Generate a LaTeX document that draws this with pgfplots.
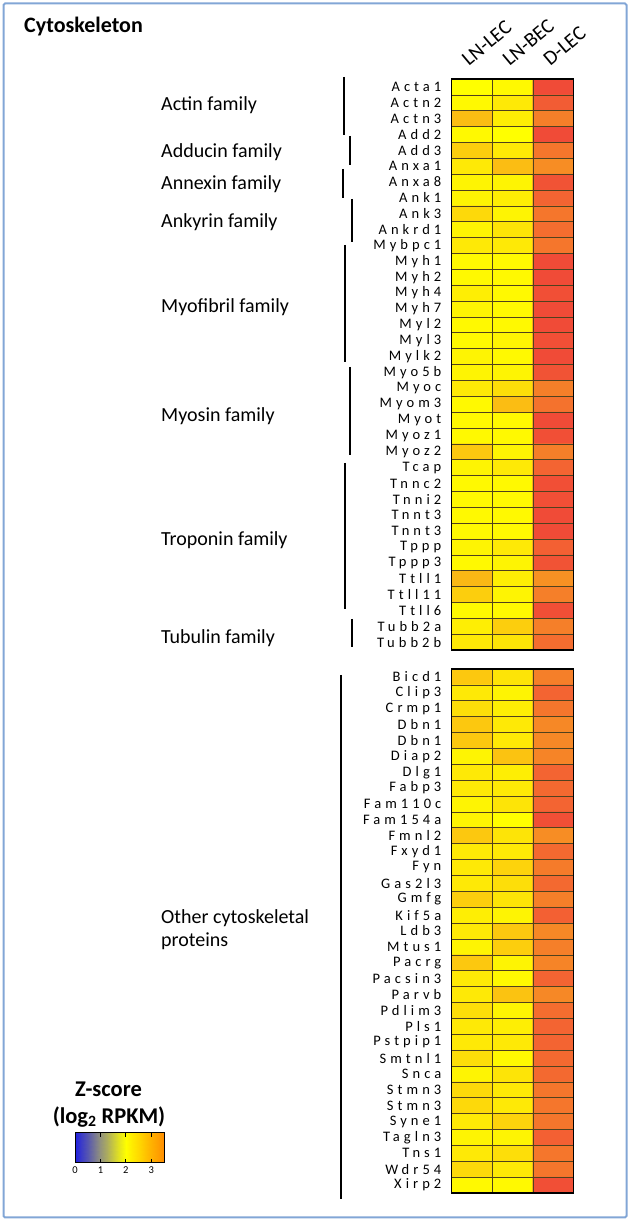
\documentclass[border=0pt]{standalone}
\usepackage{fontspec}
\setmainfont{Carlito}
\newfontfamily\genefont[LetterSpace=28]{Carlito}
\usepackage{pgfplots}
\pgfplotsset{compat=1.18}

\definecolor{frameblue}{RGB}{130,166,214}
\definecolor{gridc}{RGB}{80,65,30}

\newcommand{\famfont}{\fontsize{20}{23}\selectfont}

\pgfplotsset{
  heat/.style={
    scale only axis, width=122pt,
    xmin=-0.5, xmax=2.5, y dir=reverse,
    colormap={hm}{rgb255(0cm)=(255,255,0); rgb255(1cm)=(252,200,15);
      rgb255(2cm)=(247,145,35); rgb255(3cm)=(243,100,50); rgb255(4cm)=(238,58,58)},
    point meta min=2, point meta max=4,
    axis on top, axis line style={line width=1.6pt, black},
    major tick length=0pt, minor tick length=0pt,
    xtick={0,1,2},
    minor xtick={0.5,1.5},
    xminorgrids, yminorgrids,
    minor grid style={gridc, line width=0.6pt},
    yticklabel style={font=\genefont\fontsize{14.5}{14.5}\selectfont, inner sep=0pt, xshift=-10pt},
  }
}

\begin{document}
\begin{tikzpicture}[x=1pt,y=1pt]

\draw[frameblue, line width=2pt, rounded corners=1.5pt] (3.5,3.5) rectangle (626.5,1217.5);

\node[anchor=west, inner sep=0pt, font=\bfseries\fontsize{22}{24}\selectfont] at (24,1194) {Cytoskeleton};

% top block
\begin{axis}[heat, at={(451.5pt,571pt)}, anchor=south west, height=571pt,
  ymin=-0.5, ymax=35.5,
  ytick={0,1,...,35},
  minor ytick={0.5,1.5,...,34.5},
  yticklabels={Acta1,Actn2,Actn3,Add2,Add3,Anxa1,Anxa8,Ank1,Ank3,Ankrd1,
    Mybpc1,Myh1,Myh2,Myh4,Myh7,Myl2,Myl3,Mylk2,Myo5b,Myoc,Myom3,Myot,Myoz1,Myoz2,
    Tcap,Tnnc2,Tnni2,Tnnt3,Tnnt3,Tppp,Tppp3,Ttll1,Ttll11,Ttll6,Tubb2a,Tubb2b},
  xticklabels={LN-LEC,LN-BEC,D-LEC},
  xticklabel pos=upper,
  xticklabel style={xshift=-3pt, yshift=12pt, anchor=base west, rotate=40,
    inner sep=0pt, font=\fontsize{20.5}{20.5}\selectfont},
]
\addplot[matrix plot*, mesh/cols=3, point meta=explicit] coordinates {
(0,0)[2.00] (1,0)[2.05] (2,0)[3.80]
(0,1)[2.05] (1,1)[2.20] (2,1)[3.60]
(0,2)[2.60] (1,2)[2.15] (2,2)[3.20]
(0,3)[2.05] (1,3)[2.00] (2,3)[3.80]
(0,4)[2.45] (1,4)[2.20] (2,4)[3.30]
(0,5)[2.20] (1,5)[2.60] (2,5)[3.05]
(0,6)[2.10] (1,6)[2.10] (2,6)[3.70]
(0,7)[2.10] (1,7)[2.15] (2,7)[3.50]
(0,8)[2.35] (1,8)[2.10] (2,8)[3.30]
(0,9)[2.10] (1,9)[2.25] (2,9)[3.40]
(0,10)[2.20] (1,10)[2.20] (2,10)[3.30]
(0,11)[2.05] (1,11)[2.05] (2,11)[3.80]
(0,12)[2.05] (1,12)[2.05] (2,12)[3.80]
(0,13)[2.15] (1,13)[2.05] (2,13)[3.75]
(0,14)[2.10] (1,14)[2.05] (2,14)[3.80]
(0,15)[2.05] (1,15)[2.05] (2,15)[3.80]
(0,16)[2.05] (1,16)[2.10] (2,16)[3.75]
(0,17)[2.10] (1,17)[2.05] (2,17)[3.80]
(0,18)[2.10] (1,18)[2.10] (2,18)[3.70]
(0,19)[2.20] (1,19)[2.30] (2,19)[3.20]
(0,20)[2.05] (1,20)[2.60] (2,20)[3.35]
(0,21)[2.05] (1,21)[2.05] (2,21)[3.80]
(0,22)[2.05] (1,22)[2.05] (2,22)[3.75]
(0,23)[2.50] (1,23)[2.10] (2,23)[3.20]
(0,24)[2.10] (1,24)[2.20] (2,24)[3.50]
(0,25)[2.05] (1,25)[2.05] (2,25)[3.75]
(0,26)[2.05] (1,26)[2.05] (2,26)[3.75]
(0,27)[2.05] (1,27)[2.05] (2,27)[3.80]
(0,28)[2.05] (1,28)[2.05] (2,28)[3.80]
(0,29)[2.10] (1,29)[2.20] (2,29)[3.55]
(0,30)[2.05] (1,30)[2.10] (2,30)[3.70]
(0,31)[2.65] (1,31)[2.15] (2,31)[3.00]
(0,32)[2.45] (1,32)[2.10] (2,32)[3.20]
(0,33)[2.05] (1,33)[2.05] (2,33)[3.75]
(0,34)[2.15] (1,34)[2.45] (2,34)[3.20]
(0,35)[2.20] (1,35)[2.25] (2,35)[3.40]
};
\end{axis}

% bottom block
\begin{axis}[heat, at={(451.5pt,28pt)}, anchor=south west, height=524pt,
  ymin=-0.5, ymax=32.5,
  ytick={0,1,...,32},
  minor ytick={0.5,1.5,...,31.5},
  xticklabels={},
  yticklabels={Bicd1,Clip3,Crmp1,Dbn1,Dbn1,Diap2,Dlg1,Fabp3,Fam110c,Fam154a,
    Fmnl2,Fxyd1,Fyn,Gas2l3,Gmfg,Kif5a,Ldb3,Mtus1,Pacrg,Pacsin3,Parvb,Pdlim3,
    Pls1,Pstpip1,Smtnl1,Snca,Stmn3,Stmn3,Syne1,Tagln3,Tns1,Wdr54,Xirp2},
]
\addplot[matrix plot*, mesh/cols=3, point meta=explicit] coordinates {
(0,0)[2.50] (1,0)[2.25] (2,0)[3.20]
(0,1)[2.20] (1,1)[2.10] (2,1)[3.50]
(0,2)[2.30] (1,2)[2.15] (2,2)[3.30]
(0,3)[2.50] (1,3)[2.20] (2,3)[3.10]
(0,4)[2.50] (1,4)[2.20] (2,4)[3.10]
(0,5)[2.10] (1,5)[2.55] (2,5)[3.15]
(0,6)[2.20] (1,6)[2.15] (2,6)[3.50]
(0,7)[2.20] (1,7)[2.20] (2,7)[3.45]
(0,8)[2.10] (1,8)[2.25] (2,8)[3.50]
(0,9)[2.10] (1,9)[2.00] (2,9)[3.75]
(0,10)[2.50] (1,10)[2.25] (2,10)[3.05]
(0,11)[2.20] (1,11)[2.20] (2,11)[3.45]
(0,12)[2.20] (1,12)[2.40] (2,12)[3.25]
(0,13)[2.20] (1,13)[2.30] (2,13)[3.45]
(0,14)[2.45] (1,14)[2.25] (2,14)[3.20]
(0,15)[2.15] (1,15)[2.10] (2,15)[3.55]
(0,16)[2.20] (1,16)[2.50] (2,16)[3.10]
(0,17)[2.10] (1,17)[2.45] (2,17)[3.20]
(0,18)[2.50] (1,18)[2.10] (2,18)[3.15]
(0,19)[2.20] (1,19)[2.05] (2,19)[3.50]
(0,20)[2.20] (1,20)[2.55] (2,20)[3.10]
(0,21)[2.30] (1,21)[2.10] (2,21)[3.40]
(0,22)[2.20] (1,22)[2.15] (2,22)[3.50]
(0,23)[2.20] (1,23)[2.20] (2,23)[3.50]
(0,24)[2.30] (1,24)[2.05] (2,24)[3.45]
(0,25)[2.10] (1,25)[2.25] (2,25)[3.45]
(0,26)[2.35] (1,26)[2.20] (2,26)[3.30]
(0,27)[2.35] (1,27)[2.20] (2,27)[3.30]
(0,28)[2.20] (1,28)[2.40] (2,28)[3.30]
(0,29)[2.10] (1,29)[2.10] (2,29)[3.55]
(0,30)[2.20] (1,30)[2.30] (2,30)[3.30]
(0,31)[2.35] (1,31)[2.20] (2,31)[3.30]
(0,32)[2.05] (1,32)[2.05] (2,32)[3.75]
};
\end{axis}

% colour scale
\begin{axis}[at={(75pt,58pt)}, anchor=south west, scale only axis,
  width=89pt, height=30pt, xmin=0, xmax=3.5, ymin=0, ymax=1,
  colormap={cb}{rgb255(0cm)=(30,30,225); rgb255(1cm)=(145,145,125);
    rgb255(2cm)=(255,255,0); rgb255(2.7cm)=(255,200,0); rgb255(3.5cm)=(255,140,0)},
  point meta min=0, point meta max=3.5,
  axis on top, axis line style={line width=1pt, black},
  xtick={0,1,2,3}, ytick=\empty, tick align=inside,
  major tick length=4pt, tick style={black, line width=0.8pt},
  xticklabel style={font=\fontsize{10.5}{10.5}\selectfont},
  /pgf/number format/assume math mode=true,
]
\addplot[surf, shader=interp, mesh/cols=15, point meta=x] coordinates {
(0,0) (0.25,0) (0.5,0) (0.75,0) (1,0) (1.25,0) (1.5,0) (1.75,0) (2,0) (2.25,0) (2.5,0) (2.75,0) (3,0) (3.25,0) (3.5,0)
(0,1) (0.25,1) (0.5,1) (0.75,1) (1,1) (1.25,1) (1.5,1) (1.75,1) (2,1) (2.25,1) (2.5,1) (2.75,1) (3,1) (3.25,1) (3.5,1)
};
\end{axis}

\node[font=\bfseries\fontsize{22.5}{24}\selectfont] at (108.5,132) {Z-score};
\node[font=\bfseries\fontsize{22.5}{24}\selectfont] at (109,104) {(log\textsubscript{2} RPKM)};

% family labels
\begin{scope}[every node/.style={anchor=west, inner sep=0pt, font=\famfont}]
\node at (161,1116) {Actin family};
\node at (161,1069) {Adducin family};
\node at (161,1037) {Annexin family};
\node at (161,999) {Ankyrin family};
\node at (161,914) {Myofibril family};
\node at (161,805) {Myosin family};
\node at (161,681) {Troponin family};
\node at (161,583) {Tubulin family};
\node[align=left] at (161,291) {Other cytoskeletal\\proteins};
\end{scope}

% brackets
\begin{scope}[line width=2.5pt]
\draw (344,1144) -- (344,1086);
\draw (350,1085) -- (350,1056);
\draw (343,1052) -- (343,1023);
\draw (352,1022) -- (352,979);
\draw (345,976) -- (345,859);
\draw (350,854) -- (350,766);
\draw (345,758) -- (345,612);
\draw (352,602) -- (352,574);
\draw (341,546) -- (341,22);
\end{scope}

\pgfresetboundingbox
\path[use as bounding box] (0,0) rectangle (630,1221);
\end{tikzpicture}
\end{document}
